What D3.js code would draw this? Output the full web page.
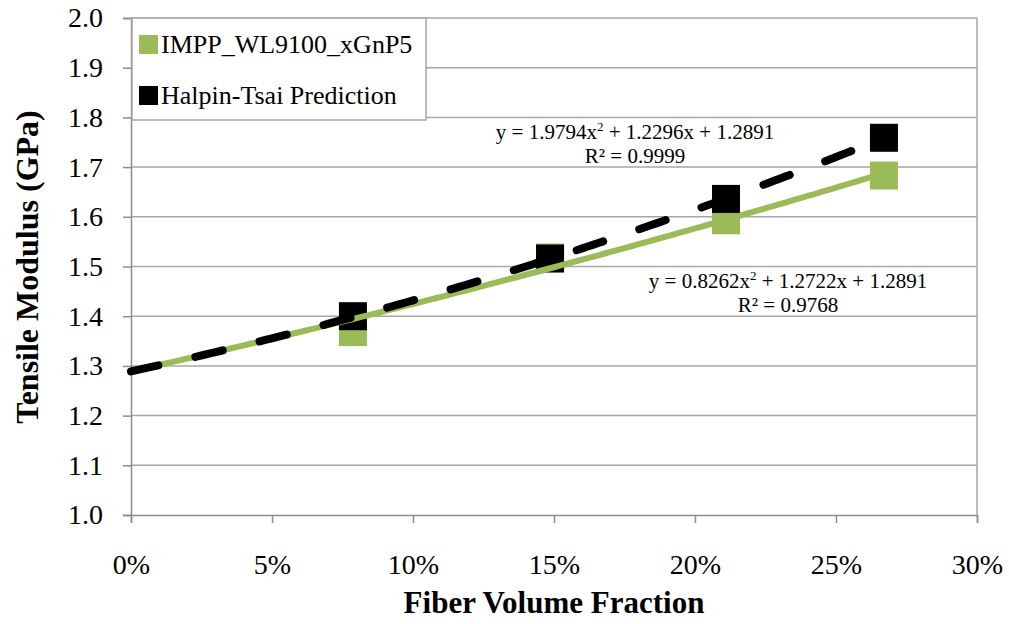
<!DOCTYPE html>
<html>
<head>
<meta charset="utf-8">
<script src="https://cdn.jsdelivr.net/npm/d3@7"></script>
<style>
  body { margin: 0; background: #fff; }
  svg { display: block; font-family: "Liberation Serif", "Times New Roman", serif; }
</style>
</head>
<body>
<svg id="visualization" width="1009" height="624"></svg>
<script>
// fiber volume fraction of each sample
const fractions = [0.0787, 0.1486, 0.211, 0.267];
const measured = [1.368, 1.518, 1.593, 1.683];
const predicted = [1.400, 1.516, 1.636, 1.759];
const seriesNames = ["IMPP_WL9100_xGnP5", "Halpin-Tsai Prediction"];
// polynomial trendline coefficients [a, b, c] for a x² + b x + c
const measuredFit = [0.8262, 1.2722, 1.2891];
const predictedFit = [1.9794, 1.2296, 1.2891];
const measuredR2 = "0.9768";
const predictedR2 = "0.9999";
const xTicks = [0, 0.05, 0.10, 0.15, 0.20, 0.25, 0.30];
const yTicks = [1.0, 1.1, 1.2, 1.3, 1.4, 1.5, 1.6, 1.7, 1.8, 1.9, 2.0];

const green = "#9bbb59";
const gridGrey = "#a6a6a6";
const axisGrey = "#8c8c8c";

const svg = d3.select("#visualization");
const margin = { top: 18, right: 32, bottom: 109, left: 131 };
const width = 1009 - margin.left - margin.right;
const height = 624 - margin.top - margin.bottom;

const x = d3.scaleLinear().domain([0, 0.30]).range([0, width]);
const y = d3.scaleLinear().domain([1.0, 2.0]).range([height, 0]);

const chart = svg.append("g")
    .attr("transform", `translate(${margin.left}, ${margin.top})`);

// horizontal gridlines
chart.selectAll("line.grid")
    .data(yTicks.filter(t => t > 1.0))
    .join("line")
    .attr("class", "grid")
    .attr("x1", 0)
    .attr("x2", width)
    .attr("y1", d => y(d))
    .attr("y2", d => y(d))
    .attr("stroke", gridGrey)
    .attr("stroke-width", 1.5);

// right border
chart.append("line")
    .attr("x1", width).attr("x2", width)
    .attr("y1", 0).attr("y2", height)
    .attr("stroke", gridGrey)
    .attr("stroke-width", 1.5);

const xAxis = chart.append("g")
    .attr("transform", `translate(0, ${height})`)
    .call(d3.axisBottom(x).tickValues(xTicks).tickFormat(d3.format(".0%")).tickSizeOuter(0).tickSize(8).tickPadding(31));

const yAxis = chart.append("g")
    .call(d3.axisLeft(y).tickValues(yTicks).tickFormat(d3.format(".1f")).tickSizeOuter(0).tickSize(8).tickPadding(20));

[xAxis, yAxis].forEach(a => {
    a.select(".domain").attr("stroke", axisGrey).attr("stroke-width", 1.5);
    a.selectAll(".tick line").attr("stroke", axisGrey).attr("stroke-width", 1.5);
    a.selectAll(".tick text")
        .attr("font-family", "Liberation Serif")
        .attr("font-size", 28)
        .attr("fill", "#000");
});

// markers
const markerSize = 28;
const points = [
    { values: measured, colour: green },
    { values: predicted, colour: "#000" }
];
points.forEach(s => {
    chart.append("g")
        .selectAll("rect")
        .data(fractions.map((f, i) => [f, s.values[i]]))
        .join("rect")
        .attr("x", d => x(d[0]) - markerSize / 2)
        .attr("y", d => y(d[1]) - markerSize / 2)
        .attr("width", markerSize)
        .attr("height", markerSize)
        .attr("fill", s.colour);
});

// trendlines
const poly = c => v => c[0] * v * v + c[1] * v + c[2];
const samples = d3.range(0, fractions[fractions.length - 1] + 0.0001, 0.002);
const trend = (c) => d3.line().x(v => x(v)).y(v => y(poly(c)(v)))(samples);

chart.append("path")
    .attr("d", trend(measuredFit))
    .attr("fill", "none")
    .attr("stroke", green)
    .attr("stroke-width", 6);

chart.append("path")
    .attr("d", trend(predictedFit))
    .attr("fill", "none")
    .attr("stroke", "#000")
    .attr("stroke-width", 8)
    .attr("stroke-linecap", "round")
    .attr("stroke-dasharray", "28,38");

// trendline labels
const equation = (g, c, r2, cx, by) => {
    const t = g.append("text")
        .attr("text-anchor", "middle")
        .attr("font-size", 21)
        .attr("x", cx)
        .attr("y", by);
    t.append("tspan").text(`y = ${c[0].toFixed(4)}x`);
    t.append("tspan").attr("font-size", 13).attr("dy", -8).text("2");
    t.append("tspan").attr("dy", 8).text(` + ${c[1].toFixed(4)}x + ${c[2].toFixed(4)}`);
    g.append("text")
        .attr("text-anchor", "middle")
        .attr("font-size", 21)
        .attr("x", cx)
        .attr("y", by + 24)
        .text(`R² = ${r2}`);
};
equation(svg, predictedFit, predictedR2, 635, 139);
equation(svg, measuredFit, measuredR2, 788, 288);

// legend
const legend = svg.append("g").attr("transform", "translate(132, 18)");
legend.append("rect")
    .attr("width", 294)
    .attr("height", 102)
    .attr("fill", "#fff")
    .attr("stroke", gridGrey)
    .attr("stroke-width", 1.5);
const legendItems = legend.selectAll("g.item")
    .data(seriesNames)
    .join("g")
    .attr("class", "item")
    .attr("transform", (d, i) => `translate(7, ${17 + i * 51})`);
legendItems.append("rect")
    .attr("width", 19)
    .attr("height", 19)
    .attr("fill", (d, i) => i === 0 ? green : "#000");
legendItems.append("text")
    .attr("x", 22)
    .attr("y", 18)
    .attr("font-size", 26)
    .text(d => d);

// axis titles
svg.append("text")
    .attr("x", 554)
    .attr("y", 613)
    .attr("text-anchor", "middle")
    .attr("font-size", 31)
    .attr("font-weight", "bold")
    .text("Fiber Volume Fraction");

svg.append("text")
    .attr("transform", `translate(38, 267) rotate(-90)`)
    .attr("text-anchor", "middle")
    .attr("font-size", 32)
    .attr("font-weight", "bold")
    .text("Tensile Modulus (GPa)");
</script>
</body>
</html>
